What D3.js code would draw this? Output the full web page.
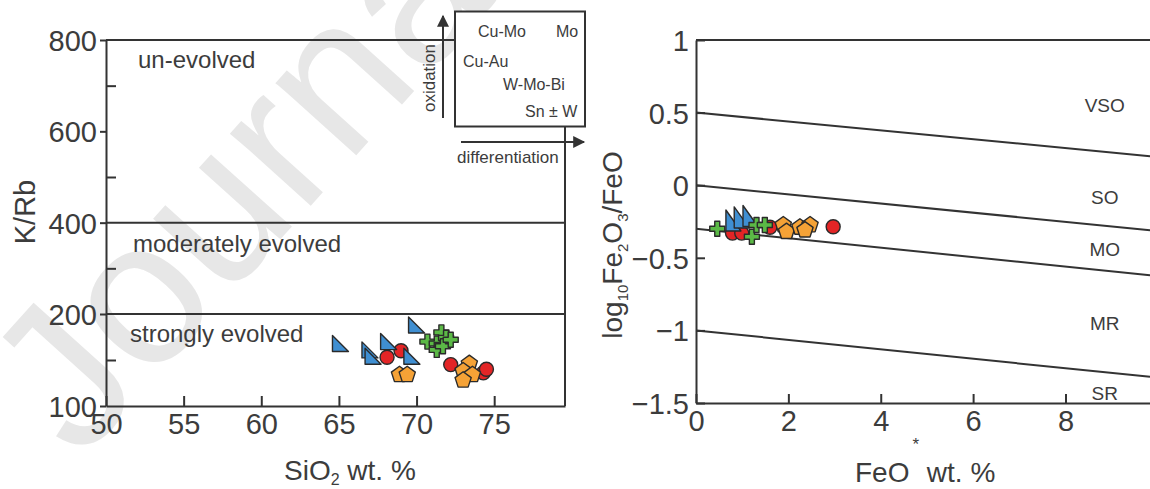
<!DOCTYPE html>
<html lang="en">
<head>
<meta charset="UTF-8">
<title>K/Rb and oxidation state diagrams</title>
<script src="https://d3js.org/d3.v7.min.js"></script>
<style>
  body { margin: 0; background: #fff; }
  text { font-family: "Liberation Sans", Arial, sans-serif; fill: #3c3c3c; }
</style>
</head>
<body>
<svg width="1150" height="489"></svg>
<script>
// ---- left diagram: SiO2 vs K/Rb ----
const siTicks = [50, 55, 60, 65, 70, 75];
const krTicks = [100, 200, 400, 600, 800];
const krMinor = [150, 300, 500, 700];
const krBounds = [400, 200];

const siTri = [65.1, 67.0, 67.2, 68.2, 69.7, 70.0];
const krTri = [168, 161, 154, 170, 154, 188];
const siCirc = [68.1, 69.0, 72.2, 74.3, 74.5];
const krCirc = [153, 160, 145, 136, 140];
const siCross = [70.7, 71.3, 71.6, 71.9, 71.3, 71.7, 72.2];
const krCross = [170, 168, 180, 174, 161, 165, 172];
const siPent = [68.9, 69.4, 73.4, 73.0, 73.6, 73.0];
const krPent = [134, 134, 146, 138, 134, 128];

// ---- right diagram: FeO* vs log10 Fe2O3/FeO ----
const feTicks = [0, 2, 4, 6, 8];
const lgTicks = [-1.5, -1, -0.5, 0, 0.5, 1];
const boundFe = [0, 9.83];
const boundStart = [0.5, 0, -0.3, -1];
const boundEnd = [0.20, -0.31, -0.62, -1.32];
const zoneNames = ["VSO", "SO", "MO", "MR", "SR"];
const zoneLg = [0.55, -0.08, -0.44, -0.95, -1.43];

const feTri = [0.81, 0.99, 1.18];
const lgTri = [-0.243, -0.222, -0.212];
const feCirc = [0.79, 0.99, 1.60, 2.97];
const lgCirc = [-0.33, -0.33, -0.29, -0.286];
const feCross = [0.46, 1.21, 1.31, 1.49];
const lgCross = [-0.30, -0.355, -0.274, -0.274];
const fePent = [1.89, 1.96, 2.25, 2.47, 2.36];
const lgPent = [-0.274, -0.32, -0.29, -0.274, -0.309];

const blue = "#3f8fd2", red = "#e32526", orange = "#f5a236", green = "#5bb946";
const ink = "#333";

const svg = d3.select("svg");

// watermark
svg.append("text")
  .attr("transform", "translate(80,462) rotate(-48)")
  .attr("font-size", 205)
  .style("fill", "#e7e7e7")
  .text("Journal");

const defs = svg.append("defs");
defs.append("marker")
  .attr("id", "arr")
  .attr("viewBox", "0 0 10 10")
  .attr("refX", 9).attr("refY", 5)
  .attr("markerWidth", 14).attr("markerHeight", 12)
  .attr("markerUnits", "userSpaceOnUse")
  .attr("orient", "auto")
  .append("path").attr("d", "M0,0 L10,5 L0,10 Z").attr("fill", ink);

// marker shapes
function triPath(w, h) {
  return `M${-w / 2},${-h / 2} L${-w / 2},${h / 2} L${w / 2},${h / 2} Z`;
}
function pentPath(r) {
  const pts = d3.range(5).map(k => {
    const a = -Math.PI / 2 + k * 2 * Math.PI / 5;
    return [r * Math.cos(a), r * Math.sin(a)];
  });
  return "M" + pts.join("L") + "Z";
}
const crossPath = d3.symbol(d3.symbolCross, 125)();

function drawPoints(g, xs, ys, x, y, shape, color) {
  g.selectAll(null)
    .data(xs.map((d, i) => [d, ys[i]]))
    .enter()
    .append(shape === "circle" ? "circle" : "path")
    .each(function (d) {
      const s = d3.select(this);
      if (shape === "circle") {
        s.attr("cx", x(d[0])).attr("cy", y(d[1])).attr("r", 7);
      } else {
        s.attr("transform", `translate(${x(d[0])},${y(d[1])})`).attr("d", shape);
      }
    })
    .attr("fill", color)
    .attr("stroke", "#2a2a2a")
    .attr("stroke-width", 1.4)
    .attr("stroke-linejoin", "round");
}

function styleAxis(a) {
  a.attr("font-size", null).attr("font-family", null);
  a.selectAll("path, line").attr("stroke", ink).attr("stroke-width", 2);
  a.selectAll("text").attr("font-size", 29).attr("fill", "#3c3c3c");
}

// ================= left =================
const xL = d3.scaleLinear().domain([50, 79.56]).range([106, 565]);
const yL = d3.scaleLinear().domain([100, 200, 800]).range([406, 314, 40]);

const gL = svg.append("g");

krBounds.forEach(v => {
  gL.append("line")
    .attr("x1", xL(50)).attr("x2", xL(79.56))
    .attr("y1", yL(v)).attr("y2", yL(v))
    .attr("stroke", ink).attr("stroke-width", 2);
});
// top edge stops at the inset box, right edge starts under it
gL.append("line").attr("x1", xL(50)).attr("x2", 455).attr("y1", yL(800)).attr("y2", yL(800))
  .attr("stroke", ink).attr("stroke-width", 2);
gL.append("line").attr("x1", xL(79.56)).attr("x2", xL(79.56)).attr("y1", 127).attr("y2", yL(100))
  .attr("stroke", ink).attr("stroke-width", 2);

gL.append("g")
  .attr("transform", `translate(0,${yL(100)})`)
  .call(d3.axisBottom(xL).tickValues(siTicks).tickSizeInner(-10).tickSizeOuter(0).tickPadding(7))
  .call(styleAxis);

gL.append("g")
  .attr("transform", `translate(${xL(50)},0)`)
  .call(d3.axisLeft(yL).tickValues(krTicks).tickSizeInner(6).tickSizeOuter(0).tickPadding(3))
  .call(styleAxis)
  .selectAll(".tick text").attr("dy", "0.36em");

gL.append("g")
  .attr("transform", `translate(${xL(50)},0)`)
  .call(d3.axisLeft(yL).tickValues(krMinor).tickSize(-10).tickFormat(""))
  .call(styleAxis)
  .select(".domain").remove();

gL.append("text").attr("x", 138).attr("y", 68).attr("font-size", 24).text("un-evolved");
gL.append("text").attr("x", 133).attr("y", 252).attr("font-size", 24).text("moderately evolved");
gL.append("text").attr("x", 130).attr("y", 342).attr("font-size", 24).text("strongly evolved");

gL.append("text")
  .attr("transform", "translate(35,212) rotate(-90)")
  .attr("text-anchor", "middle").attr("font-size", 29).text("K/Rb");

const siLab = gL.append("text").attr("x", 284).attr("y", 480).attr("font-size", 28);
siLab.append("tspan").text("SiO");
siLab.append("tspan").attr("font-size", 16).attr("dy", 5).text("2");
siLab.append("tspan").attr("dy", -5).text(" wt. %");

drawPoints(gL, siCirc, krCirc, xL, yL, "circle", red);
drawPoints(gL, siTri, krTri, xL, yL, triPath(16, 16), blue);
drawPoints(gL, siCross, krCross, xL, yL, crossPath, green);
drawPoints(gL, siPent, krPent, xL, yL, pentPath(8.5), orange);

// inset
const gI = svg.append("g");
gI.append("rect").attr("x", 455).attr("y", 11.5).attr("width", 130).attr("height", 115)
  .attr("fill", "#fff").attr("stroke", ink).attr("stroke-width", 2);
[["Cu-Mo", 478, 37], ["Mo", 556, 37], ["Cu-Au", 463, 67], ["W-Mo-Bi", 503, 90], ["Sn \u00b1 W", 525, 117]]
  .forEach(t => gI.append("text").attr("x", t[1]).attr("y", t[2]).attr("font-size", 16).text(t[0]));
gI.append("line").attr("x1", 443).attr("x2", 443).attr("y1", 118).attr("y2", 16)
  .attr("stroke", ink).attr("stroke-width", 2).attr("marker-end", "url(#arr)");
gI.append("text").attr("transform", "translate(435,78) rotate(-90)")
  .attr("text-anchor", "middle").attr("font-size", 17).text("oxidation");
gI.append("line").attr("x1", 461).attr("x2", 584).attr("y1", 142).attr("y2", 142)
  .attr("stroke", ink).attr("stroke-width", 2).attr("marker-end", "url(#arr)");
gI.append("text").attr("x", 457).attr("y", 163).attr("font-size", 17).text("differentiation");

// ================= right =================
const xR = d3.scaleLinear().domain([0, 9.83]).range([696, 1150]);
const yR = d3.scaleLinear().domain([-1.5, 1]).range([403, 40]);

const gR = svg.append("g");

gR.append("line").attr("x1", xR(0)).attr("x2", xR(9.83)).attr("y1", yR(1)).attr("y2", yR(1))
  .attr("stroke", ink).attr("stroke-width", 2);

const bline = d3.line().x(d => xR(d[0])).y(d => yR(d[1]));
boundStart.forEach((v, i) => {
  gR.append("path")
    .attr("d", bline([[boundFe[0], v], [boundFe[1], boundEnd[i]]]))
    .attr("fill", "none").attr("stroke", ink).attr("stroke-width", 2);
});

zoneNames.forEach((n, i) => {
  gR.append("text").attr("x", xR(8.85)).attr("y", yR(zoneLg[i]))
    .attr("text-anchor", "middle").attr("dy", "0.36em").attr("font-size", 19).text(n);
});

gR.append("g")
  .attr("transform", `translate(0,${yR(-1.5)})`)
  .call(d3.axisBottom(xR).tickValues(feTicks).tickSizeInner(-9).tickSizeOuter(0).tickPadding(7))
  .call(styleAxis);

gR.append("g")
  .attr("transform", `translate(${xR(0)},0)`)
  .call(d3.axisLeft(yR).tickValues(lgTicks).tickFormat(d3.format("")).tickSizeInner(-9).tickSizeOuter(0).tickPadding(7))
  .call(styleAxis)
  .selectAll(".tick text").attr("dy", "0.36em");

const lgLab = gR.append("text")
  .attr("transform", "translate(622,245) rotate(-90)")
  .attr("text-anchor", "middle").attr("font-size", 28);
lgLab.append("tspan").text("log");
lgLab.append("tspan").attr("font-size", 15).attr("dy", 6).text("10");
lgLab.append("tspan").attr("dy", -6).text("Fe");
lgLab.append("tspan").attr("font-size", 15).attr("dy", 6).text("2");
lgLab.append("tspan").attr("dy", -6).text("O");
lgLab.append("tspan").attr("font-size", 15).attr("dy", 6).text("3");
lgLab.append("tspan").attr("dy", -6).text("/FeO");

const feLab = gR.append("text").attr("x", 855).attr("y", 482).attr("font-size", 28);
feLab.append("tspan").text("FeO");
feLab.append("tspan").attr("font-size", 17).attr("dy", -32).attr("dx", 3).text("*");
feLab.append("tspan").attr("dy", 32).text(" wt. %");

drawPoints(gR, feCirc, lgCirc, xR, yR, "circle", red);
drawPoints(gR, feTri, lgTri, xR, yR, triPath(15, 21), blue);
drawPoints(gR, feCross, lgCross, xR, yR, crossPath, green);
drawPoints(gR, fePent, lgPent, xR, yR, pentPath(8.5), orange);
</script>
</body>
</html>
